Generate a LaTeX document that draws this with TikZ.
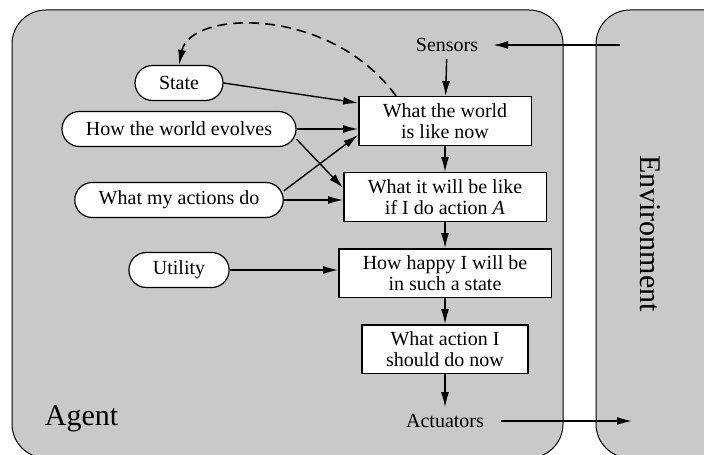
\documentclass[tikz,border=0pt]{standalone}
\usepackage{fontspec}
\setmainfont{Liberation Serif}
\usetikzlibrary{arrows.meta}

\begin{document}
\begin{tikzpicture}[node distance=38pt, >={Latex[length=7.5pt,width=4pt]},
    box/.style={rectangle, draw, fill=white, line width=0.7pt, align=center, inner xsep=12pt, minimum height=24pt, font=\fontsize{10}{10.5}\selectfont},
    oval/.style={rectangle, draw, fill=white, line width=0.6pt, rounded corners=8.75pt, inner xsep=12pt, minimum height=17.5pt},
    flow/.style={->, line width=0.7pt}]
    % Frames
    \useasboundingbox (0,0) rectangle (352pt,-227pt);
    \clip (0,0) rectangle (352pt,-227pt);
    \draw[fill=black!21, line width=0.5pt, rounded corners=17pt] (6pt,-5pt) rectangle (281.5pt,-229pt);
    \draw[fill=black!21, line width=0.5pt, rounded corners=17pt] (298pt,-5pt) rectangle (380pt,-229pt);
    \node at (40.75pt,-209.5pt) [font=\fontsize{15}{18}\selectfont] (agentlabel) {Agent};
    \node at (325pt,-116.75pt) [rotate=-90, font=\fontsize{15}{18}\selectfont] (envlabel) {Environment};

    % Decision chain
    \node at (223.5pt,-22.5pt) (sensors) {Sensors};
    \node [box, below of=sensors, xshift=-1pt] (world) {What the world\\is like now};
    \node [box, below of=world] (future) {What it will be like\\if I do action \textit{A}};
    \node [box, below of=future] (happy) {How happy I will be\\in such a state};
    \node [box, below of=happy] (action) {What action I\\should do now};
    \node [below of=action, yshift=2pt] (actuators) {Actuators};

    % Knowledge
    \node [oval, left of=happy, node distance=133pt, yshift=1.5pt] (utility) {Utility};
    \node [oval, left of=future, node distance=133pt, yshift=-1.5pt] (actions) {What my actions do};
    \node [oval, left of=world, node distance=133pt, yshift=-4pt] (evolves) {How the world evolves};
    \node [oval, above of=evolves, node distance=23pt] (state) {State};

    % Percepts and actions
    \coordinate (envin) at (310pt,-22.5pt);
    \coordinate (envout) at (316pt,-210.5pt);
    \draw[flow, shorten >=4pt] (envin) -- (sensors);
    \draw[flow] (sensors) -- (world);
    \draw[flow] (world) -- (future);
    \draw[flow] (future) -- (happy);
    \draw[flow] (happy) -- (action);
    \draw[flow] (action) -- (actuators);
    \draw[flow, shorten <=5pt] (actuators) -- (envout);

    % Arrows
    \draw[flow] (state.east) -- ([yshift=9pt]world.west);
    \draw[flow] (evolves.east) -- (evolves.east -| world.west);
    \draw[flow] (evolves.-5) -- ([yshift=4.5pt]future.west);
    \draw[flow] (actions.5) -- ([yshift=-7pt]world.west);
    \draw[flow] (actions.east) -- (actions.east -| future.west);
    \draw[flow] (utility.east) -- (utility.east -| happy.west);
    \draw[flow, line width=0.8pt, dash pattern=on 5pt off 3pt] ([xshift=19pt]world.north west) .. controls (165pt,-2.5pt) and (95pt,-5pt) .. (state.north);
\end{tikzpicture}
\end{document}
